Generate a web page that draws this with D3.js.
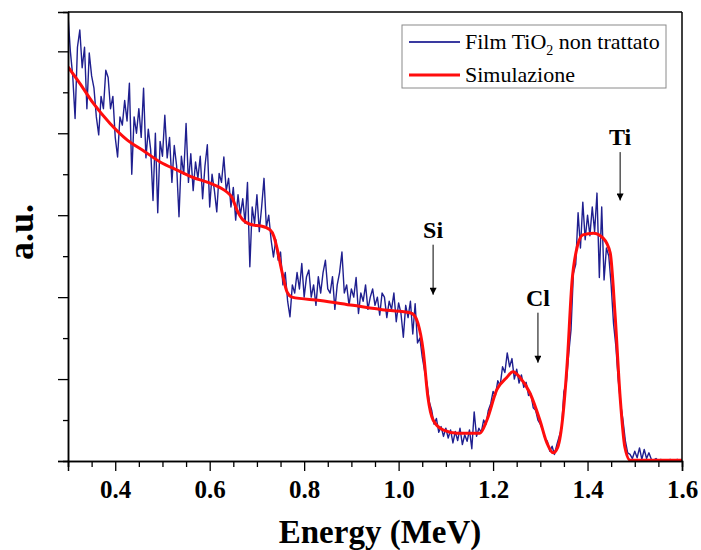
<!DOCTYPE html>
<html><head><meta charset="utf-8">
<script src="https://cdn.jsdelivr.net/npm/d3@7"></script>
<style>body{margin:0;background:#fff}</style>
</head><body>
<svg id="chart" width="701" height="550"></svg>
<script>
// ---- data ----
const measuredStart = 0.300;
const measuredStep = 0.005;
const measured = [
  544,500,470,418,505,526,480,505,430,498,470,455,420,398,445,430,477,468,430,445,
  395,371,420,410,440,415,461,350,420,400,430,395,455,370,405,380,318,400,303,390,
  372,422,370,395,340,385,360,298,372,350,412,340,375,330,365,345,372,320,360,386,
  310,350,330,304,351,340,371,330,345,310,334,294,325,300,320,290,340,237,310,290,
  325,280,310,345,285,300,270,249,270,245,255,215,230,195,176,215,205,230,210,241,
  200,225,233,200,215,190,225,205,230,245,210,205,225,185,215,230,255,205,215,190,
  210,200,224,180,205,195,215,185,200,210,190,200,178,205,200,175,195,185,205,170,
  193,180,151,190,175,195,155,192,144,150,127,110,95,72,62,45,52,35,42,30,
  40,28,38,22,36,25,40,20,32,24,38,15,60,30,40,35,50,45,62,70,
  85,80,98,92,115,108,132,115,125,100,112,95,105,90,96,80,82,65,62,50,
  45,38,27,24,12,18,8,20,30,40,85,95,130,160,229,240,303,260,316,270,
  300,275,310,280,327,224,310,221,260,250,215,168,140,99,70,50,25,10,8,3,
  12,4,16,2,14,3,10,2,1,3,0,2,1,0,1,2,0,1,2,0,1
];
const simEnergy = [0.300,0.325,0.353,0.389,0.425,0.459,0.495,0.531,0.565,0.601,0.637,0.647,0.658,0.671,0.692,0.707,0.728,0.736,0.742,0.753,0.764,0.774,0.834,0.903,0.975,1.024,1.033,1.041,1.052,1.062,1.073,1.094,1.124,1.172,1.187,1.208,1.229,1.242,1.257,1.278,1.299,1.314,1.327,1.337,1.348,1.357,1.367,1.378,1.390,1.412,1.433,1.448,1.458,1.469,1.479,1.490,1.600];
const simValue = [481,461,437,412,392,379,365,355,346,339,328,322,306,294,288,287,282,274,261,231,206,200,196,190,184,181,178,168,135,78,50,38,34,34,50,87,102,109,102,83,50,22,10,17,56,120,218,261,276,278,272,254,181,78,17,1,1];
const xTickLabels = [0.4,0.6,0.8,1.0,1.2,1.4,1.6];
const xMinorTicks = [0.3,0.35,0.45,0.5,0.55,0.65,0.7,0.75,0.85,0.9,0.95,1.05,1.1,1.15,1.25,1.3,1.35,1.45,1.5,1.55];
const yMajorTicks = [0,100,200,300,400,500];
const yMinorTicks = [50,150,250,350,450];
const annLabels = ["Si","Cl","Ti"];
const annEnergy = [1.073,1.295,1.469];
const annFrom = [264,181,377];
const annTo = [203,120,318];
const legendLabels = ["Film TiO", "Simulazione"];

// ---- layout ----
const svg = d3.select("#chart");
const L = 68, R = 682, T = 12, B = 461;
const x = d3.scaleLinear().domain([0.3,1.6]).range([L,R]);
const y = d3.scaleLinear().domain([0,548]).range([B,T]);
const serif = "'Liberation Serif','Times New Roman',Times,serif";

const measuredPts = measured.map((v,i)=>[measuredStart + i*measuredStep, v]);
const simPts = simEnergy.map((e,i)=>[e, simValue[i]]);

const defs = svg.append("defs");
defs.append("clipPath").attr("id","clip")
  .append("rect").attr("x",L).attr("y",T).attr("width",R-L).attr("height",B-T);

const g = svg.append("g").attr("clip-path","url(#clip)");
g.append("path").datum(measuredPts)
  .attr("d", d3.line().x(d=>x(d[0])).y(d=>y(d[1])))
  .attr("fill","none").attr("stroke","#1f1f8f").attr("stroke-width",1.4).attr("stroke-linejoin","round");
g.append("path").datum(simPts)
  .attr("d", d3.line().x(d=>x(d[0])).y(d=>y(d[1])).curve(d3.curveMonotoneX))
  .attr("fill","none").attr("stroke","#ff0d0d").attr("stroke-width",3).attr("stroke-linejoin","round");

// frame
svg.append("line").attr("x1",L).attr("x2",R).attr("y1",T).attr("y2",T).attr("stroke","#000").attr("stroke-width",1.5);
svg.append("line").attr("x1",R).attr("x2",R).attr("y1",T).attr("y2",B).attr("stroke","#000").attr("stroke-width",1.5);

// x axis
const xAxis = svg.append("g").attr("transform",`translate(0,${B})`);
xAxis.call(d3.axisBottom(x).tickValues(xTickLabels).tickSize(10).tickPadding(9).tickFormat(d3.format(".1f")));
xAxis.append("g").call(d3.axisBottom(x).tickValues(xMinorTicks).tickSize(6).tickFormat(""));
xAxis.selectAll(".domain").attr("stroke-width",1.5);
xAxis.selectAll(".tick line").attr("stroke-width",1.3);
xAxis.selectAll("text").style("font-family",serif).style("font-weight","bold").style("font-size","25px").attr("fill","#000");

// y axis
const yAxis = svg.append("g").attr("transform",`translate(${L},0)`);
yAxis.call(d3.axisLeft(y).tickValues(yMajorTicks).tickSize(10).tickFormat(""));
yAxis.append("g").call(d3.axisLeft(y).tickValues(yMinorTicks).tickSize(5).tickFormat(""));
yAxis.selectAll(".domain").attr("stroke-width",1.5);
yAxis.selectAll(".tick line").attr("stroke-width",1.3);

// titles
svg.append("text").attr("x",380).attr("y",543).attr("text-anchor","middle")
  .style("font-family",serif).style("font-weight","bold").style("font-size","33px").text("Energy (MeV)");
svg.append("text").attr("transform","translate(33,232) rotate(-90)").attr("text-anchor","middle")
  .style("font-family",serif).style("font-weight","bold").style("font-size","36px").text("a.u.");

// annotations
defs.append("marker").attr("id","arrow").attr("viewBox","0 0 10 10").attr("refX",10).attr("refY",5)
  .attr("markerWidth",12).attr("markerHeight",7).attr("orient","auto").attr("markerUnits","userSpaceOnUse")
  .append("path").attr("d","M0,0 L10,5 L0,10 Z").attr("fill","#000");
annLabels.forEach((lab,i)=>{
  svg.append("line").attr("x1",x(annEnergy[i])).attr("x2",x(annEnergy[i]))
    .attr("y1",y(annFrom[i])).attr("y2",y(annTo[i])).attr("stroke","#000").attr("stroke-width",1)
    .attr("marker-end","url(#arrow)");
  svg.append("text").attr("x",x(annEnergy[i])).attr("y",y(annFrom[i])-7).attr("text-anchor","middle")
    .style("font-family",serif).style("font-weight","bold").style("font-size","24px").text(lab);
});

// legend
const lg = svg.append("g");
lg.append("rect").attr("x",402).attr("y",25).attr("width",264).attr("height",63)
  .attr("fill","#fff").attr("stroke","#8a8a8a").attr("stroke-width",1);
lg.append("line").attr("x1",409).attr("x2",460).attr("y1",42).attr("y2",42).attr("stroke","#3a3aa0").attr("stroke-width",2);
lg.append("line").attr("x1",409).attr("x2",460).attr("y1",75).attr("y2",75).attr("stroke","#ff0d0d").attr("stroke-width",3);
const t1 = lg.append("text").attr("x",465).attr("y",49).style("font-family",serif).style("font-size","22px");
t1.append("tspan").text(legendLabels[0]);
t1.append("tspan").style("font-size","14px").attr("dy",6).text("2");
t1.append("tspan").attr("dy",-6).text(" non trattato");
lg.append("text").attr("x",465).attr("y",82).style("font-family",serif).style("font-size","22px").text(legendLabels[1]);
</script>
</body></html>
